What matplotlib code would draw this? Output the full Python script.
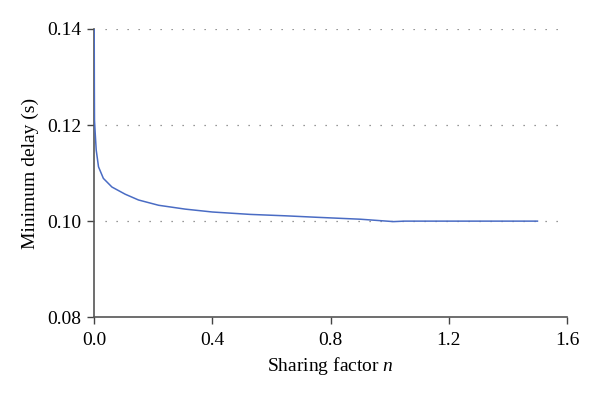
import numpy as np
import matplotlib
matplotlib.use('Agg')
from matplotlib import pyplot as plt

# 数据 (读自图片)
sharing_factor = [0.0, 0.0005, 0.001, 0.0034, 0.0068, 0.0146, 0.031, 0.06, 0.105,
                  0.15, 0.218, 0.308, 0.4, 0.528, 0.65, 0.753, 0.9, 1.013, 1.05,
                  1.2, 1.35, 1.5]
min_delay = [0.14, 0.128, 0.121, 0.1183, 0.1148, 0.1113, 0.1089, 0.1071, 0.1056,
             0.1044, 0.1033, 0.1025, 0.1019, 0.1014, 0.1011, 0.1008, 0.1004, 0.0999, 0.1,
             0.1, 0.1, 0.1]
x_ticks = [0.0, 0.4, 0.8, 1.2, 1.6]
y_ticks = [0.08, 0.10, 0.12, 0.14]

plt.rcParams['font.family'] = ['Liberation Serif', 'DejaVu Serif']
plt.rcParams['mathtext.fontset'] = 'custom'
plt.rcParams['mathtext.it'] = 'Liberation Serif:italic'
plt.rcParams['mathtext.rm'] = 'Liberation Serif'

fig = plt.figure(figsize=(6, 3.97), dpi=100)
ax = fig.add_axes([0.157, 0.201, 0.788, 0.726])

ax.plot(sharing_factor, min_delay, color='#4a6cc4', lw=1.1, zorder=3)

# 虚线网格
for y in y_ticks[1:]:
    ax.plot([0.037, 1.57], [y, y], color='#777777', lw=0.9,
            linestyle=(0, (1, 7.8)), zorder=1)

ax.set_xlim(0, 1.6)
ax.set_ylim(0.08, 0.14)
ax.set_xticks(x_ticks)
ax.set_yticks(y_ticks)
ax.set_xticklabels([f'{v:.1f}' for v in x_ticks])
ax.set_yticklabels([f'{v:.2f}' for v in y_ticks])
ax.tick_params(labelsize=14, direction='out', length=5, color='#444444', width=1)
ax.tick_params(axis='x', pad=6)
ax.tick_params(axis='y', pad=4)

for s in ['top', 'right']:
    ax.spines[s].set_visible(False)
for s in ['left', 'bottom']:
    ax.spines[s].set_color('#555555')
    ax.spines[s].set_linewidth(1.2)

ax.set_xlabel('Sharing factor $n$', fontsize=14, labelpad=4)
ax.set_ylabel('Minimum delay (s)', fontsize=14, labelpad=6)

plt.savefig('out.png', dpi=100)
